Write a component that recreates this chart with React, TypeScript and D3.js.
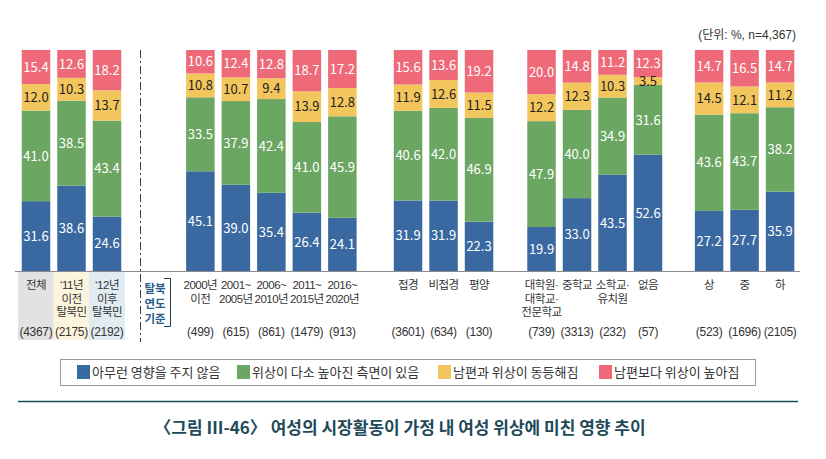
import React from "react";
import * as d3 from "d3";

const categories: string[][] = [
  ["전체"], ["‘11년", "이전", "탈북민"], ["‘12년", "이후", "탈북민"],
  ["2000년", "이전"], ["2001~", "2005년"], ["2006~", "2010년"], ["2011~", "2015년"], ["2016~", "2020년"],
  ["접경"], ["비접경"], ["평양"],
  ["대학원·", "대학교·", "전문학교"], ["중학교"], ["소학교·", "유치원"], ["없음"],
  ["상"], ["중"], ["하"],
];
const groups = [0, 0, 0, 1, 1, 1, 1, 1, 2, 2, 2, 3, 3, 3, 3, 4, 4, 4];
const counts = [4367, 2175, 2192, 499, 615, 861, 1479, 913, 3601, 634, 130, 739, 3313, 232, 57, 523, 1696, 2105];

const seriesNames = ["아무런 영향을 주지 않음", "위상이 다소 높아진 측면이 있음", "남편과 위상이 동등해짐", "남편보다 위상이 높아짐"];
const noEffect = [31.6, 38.6, 24.6, 45.1, 39.0, 35.4, 26.4, 24.1, 31.9, 31.9, 22.3, 19.9, 33.0, 43.5, 52.6, 27.2, 27.7, 35.9];
const somewhatHigher = [41.0, 38.5, 43.4, 33.5, 37.9, 42.4, 41.0, 45.9, 40.6, 42.0, 46.9, 47.9, 40.0, 34.9, 31.6, 43.6, 43.7, 38.2];
const equal = [12.0, 10.3, 13.7, 10.8, 10.7, 9.4, 13.9, 12.8, 11.9, 12.6, 11.5, 12.2, 12.3, 10.3, 3.5, 14.5, 12.1, 11.2];
const higherThanHusband = [15.4, 12.6, 18.2, 10.6, 12.4, 12.8, 18.7, 17.2, 15.6, 13.6, 19.2, 20.0, 14.8, 11.2, 12.3, 14.7, 16.5, 14.7];

const unitText = "(단위: %, n=4,367)";
const titleText = "〈그림 Ⅲ-46〉 여성의 시장활동이 가정 내 여성 위상에 미친 영향 추이";
const sideNote = ["탈북", "연도", "기준"];

const colors = ["#3a69a1", "#6ba762", "#f3c65d", "#ef6a79"];
const textColors = ["#ffffff", "#ffffff", "#222222", "#ffffff"];
const labelBg = ["#e2e2e2", "#fdf4dd", "#e0ebf2"];
const groupGap = [0, 2.63, 1.85, 1.76, 1.72];
const FONT = "'Noto Sans CJK KR', 'Noto Sans', sans-serif";
const LABEL_FONT = "'Liberation Sans', 'Noto Sans CJK KR', sans-serif";

export default function App() {
  const W = 826, H = 459;
  const keys = ["a", "b", "c", "d"];
  const rows = categories.map((c, i) => ({
    i, a: noEffect[i], b: somewhatHigher[i], c: equal[i], d: higherThanHusband[i],
  }));
  const stacked = d3.stack<any>().keys(keys).offset(d3.stackOffsetExpand)(rows);

  const slots: number[] = [];
  let s = 0;
  groups.forEach((g, i) => {
    if (i === 0) s = 0;
    else if (g !== groups[i - 1]) s += groupGap[g];
    else s += 1;
    slots.push(s);
  });
  const x = d3.scaleLinear().domain([0, 1]).range([36, 71.5]);
  const y = d3.scaleLinear().domain([0, 1]).range([271, 50]);
  const bw = 28.5;
  const fmt = d3.format(".1f");

  const legendX = [77, 237, 438, 599];

  return (
    <svg width={W} height={H} style={{ position: "absolute", left: 0, top: 0, background: "#fff" }} fontFamily={FONT}>
      <rect x={0} y={0} width={W} height={H} fill="#fff" />
      <text x={796} y={39} textAnchor="end" fontSize={12} fill="#333" fontFamily={LABEL_FONT}>{unitText}</text>
      {labelBg.map((c, i) => (
        <rect key={i} x={x(slots[i]) - 18} y={272} width={36} height={68} fill={c} />
      ))}
      {stacked.map((layer, k) =>
        layer.map((d, i) => (
          <rect key={k + "-" + i} x={x(slots[i]) - bw / 2} y={y(d[1])} width={bw} height={y(d[0]) - y(d[1])} fill={colors[k]} />
        ))
      )}
      {stacked.map((layer, k) =>
        layer.map((d, i) => (
          <text key={"t" + k + "-" + i} x={x(slots[i])} y={(y(d[0]) + y(d[1])) / 2} dy="0.36em"
            textAnchor="middle" fontSize={13} fill={textColors[k]}>
            {fmt((rows[i] as any)[keys[k]])}
          </text>
        ))
      )}
      <line x1={15} x2={800} y1={271.5} y2={271.5} stroke="#8c8c8c" strokeWidth={1} />
      <line x1={140.5} x2={140.5} y1={50} y2={342} stroke="#1f3f55" strokeWidth={1} strokeDasharray="8,3,2,3" />
      {sideNote.map((t, j) => (
        <text key={j} x={155} y={289 + j * 15} dy="0.35em" textAnchor="middle" fontSize={11.5} fontWeight={700} fill="#2a5d8c">{t}</text>
      ))}
      <path d="M164,278.5 H170.5 V326.5 H164" fill="none" stroke="#1f3f55" strokeWidth={1} />
      {categories.map((lines, i) => (
        <g key={"c" + i} fontFamily={LABEL_FONT}>
          {lines.map((t, j) => (
            <text key={j} x={x(slots[i])} y={285 + j * 13.5} dy="0.35em" textAnchor="middle" fontSize={11.5} fill="#333" letterSpacing={-0.5}>{t}</text>
          ))}
          <text x={x(slots[i])} y={332} dy="0.35em" textAnchor="middle" fontSize={12} fill="#333" letterSpacing={-0.3}>({counts[i]})</text>
        </g>
      ))}
      <rect x={60.5} y={359.5} width={695} height={26} fill="none" stroke="#9a9a9a" strokeWidth={1} />
      {seriesNames.map((n, k) => (
        <g key={"l" + k}>
          <rect x={legendX[k]} y={365} width={13} height={14} fill={colors[k]} />
          <text x={legendX[k] + 15} y={372} dy="0.35em" fontSize={13} fill="#333">{n}</text>
        </g>
      ))}
      <line x1={18} x2={798} y1={401.5} y2={401.5} stroke="#1f4c5c" strokeWidth={1.5} />
      <text x={400} y={428} dy="0.35em" textAnchor="middle" fontSize={17} fontWeight={700} fill="#1e4a5a">{titleText}</text>
    </svg>
  );
}
